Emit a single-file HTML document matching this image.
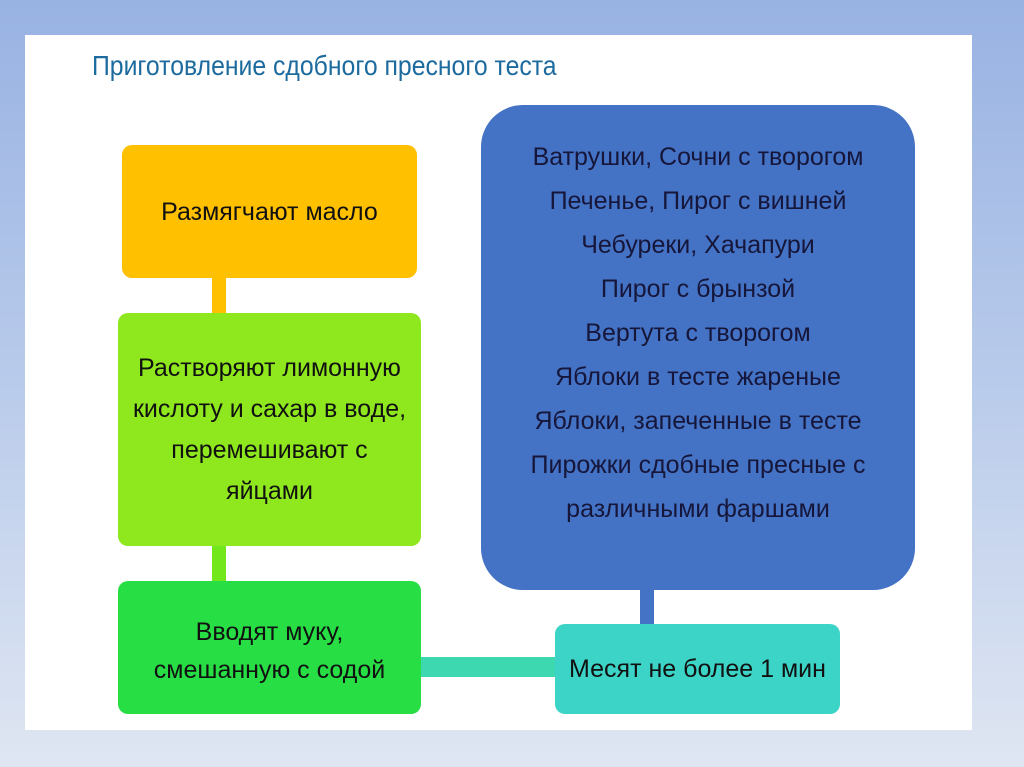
<!DOCTYPE html>
<html><head><meta charset="utf-8"><style>
html,body{margin:0;padding:0}
body{width:1024px;height:767px;position:relative;overflow:hidden;background:linear-gradient(180deg,#98b2e2 0%,#b9cbeb 50%,#dfe6f2 100%);font-family:"Liberation Sans","DejaVu Sans",sans-serif}
.panel{position:absolute;left:25px;top:35px;width:947px;height:695px;background:#fff}
.b{position:absolute;display:flex;align-items:center;justify-content:center;text-align:center;color:#111;font-size:25px;line-height:38px;border-radius:10px;box-sizing:border-box}
.b span{display:inline-block;transform:scaleX(1.0);white-space:nowrap}
.c{position:absolute}
.title{position:absolute;left:92px;top:50px;font-size:28px;color:#1d6b9e;transform:scaleX(0.885);transform-origin:left top;white-space:nowrap}
</style></head><body>
<div class="panel"></div>
<div class="title">Приготовление сдобного пресного теста</div>

<div class="c" style="left:212px;top:278px;width:14px;height:36px;background:#ffc000"></div>
<div class="c" style="left:212px;top:546px;width:14px;height:36px;background:#72e81c"></div>
<div class="c" style="left:420px;top:657px;width:137px;height:20px;background:#3dd8b0"></div>
<div class="c" style="left:640px;top:588px;width:14px;height:38px;background:#4472c4"></div>

<div class="b" style="left:122px;top:145px;width:295px;height:133px;background:#ffc000"><span>Размягчают масло</span></div>
<div class="b" style="left:118px;top:313px;width:303px;height:233px;background:#8fe81e;line-height:41px"><span>Растворяют лимонную<br>кислоту и сахар в воде,<br>перемешивают с<br>яйцами</span></div>
<div class="b" style="left:118px;top:581px;width:303px;height:133px;background:#27df45;padding-top:6px"><span>Вводят муку,<br>смешанную с содой</span></div>
<div class="b" style="left:555px;top:624px;width:285px;height:90px;background:#3cd4c6"><span>Месят не более 1 мин</span></div>
<div class="b" style="left:481px;top:105px;width:434px;height:485px;background:#4472c4;border-radius:42px;color:#16163a;line-height:44px;padding-bottom:30px"><span>Ватрушки, Сочни с творогом<br>Печенье, Пирог с вишней<br>Чебуреки, Хачапури<br>Пирог с брынзой<br>Вертута с творогом<br>Яблоки в тесте жареные<br>Яблоки, запеченные в тесте<br>Пирожки сдобные пресные с<br>различными фаршами</span></div>
</body></html>
